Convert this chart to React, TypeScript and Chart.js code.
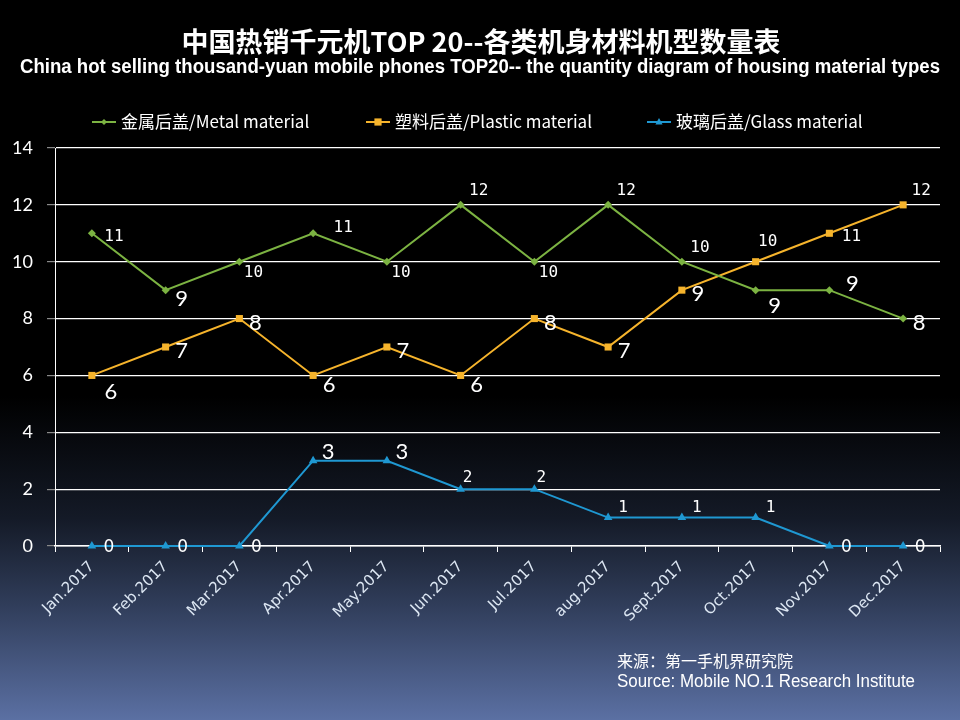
import { useEffect, useRef } from "react";
import { Chart, registerables } from "chart.js";

Chart.register(...registerables);

const months = ["Jan.2017", "Feb.2017", "Mar.2017", "Apr.2017", "May.2017", "Jun.2017", "Jul.2017", "aug.2017", "Sept.2017", "Oct.2017", "Nov.2017", "Dec.2017"];
const metalValues = [11, 9, 10, 11, 10, 12, 10, 12, 10, 9, 9, 8];
const plasticValues = [6, 7, 8, 6, 7, 6, 8, 7, 9, 10, 11, 12];
const glassValues = [0, 0, 0, 3, 3, 2, 2, 1, 1, 1, 0, 0];
const seriesNames = ["金属后盖/Metal material", "塑料后盖/Plastic material", "玻璃后盖/Glass material"];
const titleText = "中国热销千元机TOP 20--各类机身材料机型数量表";
const subtitleText = "China hot selling thousand-yuan mobile phones TOP20-- the quantity diagram of housing material types";
const sourceCn = "来源：第一手机界研究院";
const sourceEn = "Source: Mobile NO.1 Research Institute";
const yMin = 0;
const yMax = 14;
const yStep = 2;

// label placement codes (style only)
const metalLabelPlace = ["S_r", "L_br", "S_br", "S_fr", "S_br", "S_ar", "S_br", "S_ar", "S_ar", "L_b", "L_fr", "L_r"];
const plasticLabelPlace = ["L_b", "L_r", "L_r", "L_br", "L_r", "L_br", "L_r", "L_r", "L_r", "S_a", "S_r", "S_ar"];
const glassLabelPlace = ["Z", "Z", "Z", "L_ar", "L_ar", "S_g2", "S_g2", "S_g1", "S_g1", "S_g1", "Z", "Z"];

const LARGE = '22px "Lato"';
const SMALL = '16px "DejaVu Sans Mono"';
const MED = '17px "DejaVu Sans"';
const placeStyle: Record<string, [number, number, string]> = {
  L_r: [16, 4, LARGE],
  L_br: [16, 9, LARGE],
  L_b: [19, 16, LARGE],
  L_ar: [15, -9, LARGE],
  L_fr: [23, -6, LARGE],
  S_r: [22, 4, SMALL],
  S_fr: [30, -5, SMALL],
  S_br: [14, 11, SMALL],
  S_ar: [18, -14, SMALL],
  S_a: [12, -20, SMALL],
  S_g2: [7, -11, SMALL],
  S_g1: [15, -10, SMALL],
  Z: [17, 2, MED],
};

const colors = ["#7cb342", "#f6b42c", "#1f98d2"];
const pointStyles = ["rectRot", "rect", "triangle"];
const pointRadii = [4, 5, 5];
const legendX = [92, 366, 647];
const legendTextW = [191, 197, 188];

function drawMarker(ctx: CanvasRenderingContext2D, style: string, x: number, y: number, r: number) {
  ctx.beginPath();
  if (style === "rectRot") {
    ctx.moveTo(x, y - r);
    ctx.lineTo(x + r, y);
    ctx.lineTo(x, y + r);
    ctx.lineTo(x - r, y);
  } else if (style === "rect") {
    const s = r * 0.9;
    ctx.rect(x - s, y - s, 2 * s, 2 * s);
  } else {
    ctx.moveTo(x, y - r);
    ctx.lineTo(x + r * 0.9, y + r * 0.6);
    ctx.lineTo(x - r * 0.9, y + r * 0.6);
  }
  ctx.closePath();
  ctx.fill();
}

const decorPlugin = {
  id: "decor",
  afterDatasetsDraw(chart: any) {
    const ctx: CanvasRenderingContext2D = chart.ctx;
    const places = [metalLabelPlace, plasticLabelPlace, glassLabelPlace];
    ctx.save();
    ctx.fillStyle = "#ffffff";
    ctx.textAlign = "center";
    ctx.textBaseline = "middle";
    chart.data.datasets.forEach((ds: any, di: number) => {
      const meta = chart.getDatasetMeta(di);
      meta.data.forEach((pt: any, i: number) => {
        const st = placeStyle[places[di][i]];
        ctx.font = st[2];
        ctx.fillText(String(ds.data[i]), pt.x + st[0], pt.y + st[1]);
      });
    });
    ctx.restore();
  },
  afterDraw(chart: any) {
    const ctx: CanvasRenderingContext2D = chart.ctx;
    ctx.save();
    ctx.fillStyle = "#ffffff";
    ctx.textAlign = "center";
    ctx.textBaseline = "middle";
    ctx.font = 'bold 27px "Noto Sans CJK SC"';
    ctx.fillText(titleText, 481, 42, 604);
    ctx.font = 'bold 19.5px "Liberation Sans"';
    ctx.fillText(subtitleText, 480, 68, 920);

    // legend
    ctx.textAlign = "left";
    chart.data.datasets.forEach((ds: any, i: number) => {
      const x = legendX[i];
      const y = 122;
      ctx.strokeStyle = colors[i];
      ctx.lineWidth = 2;
      ctx.beginPath();
      ctx.moveTo(x, y);
      ctx.lineTo(x + 24, y);
      ctx.stroke();
      ctx.fillStyle = colors[i];
      drawMarker(ctx, pointStyles[i], x + 12, y, pointRadii[i] - 1);
      ctx.fillStyle = "#ffffff";
      ctx.font = '17px "Noto Sans CJK SC"';
      ctx.fillText(ds.label, x + 29, y, legendTextW[i]);
    });

    // source
    ctx.font = '16px "Noto Sans CJK SC"';
    ctx.fillText(sourceCn, 617, 661, 178);
    ctx.font = '17.5px "Liberation Sans"';
    ctx.fillText(sourceEn, 617, 682, 298);
    ctx.restore();
  },
};

export default function App() {
  const canvasRef = useRef<HTMLCanvasElement | null>(null);

  useEffect(() => {
    document.body.style.margin = "0";
    const canvas = canvasRef.current;
    if (!canvas) return;
    const values = [metalValues, plasticValues, glassValues];
    const chart = new Chart(canvas, {
      type: "line",
      data: {
        labels: months,
        datasets: values.map((v, i) => ({
          label: seriesNames[i],
          data: v,
          borderColor: colors[i],
          backgroundColor: colors[i],
          borderWidth: 2,
          pointStyle: pointStyles[i] as any,
          pointRadius: pointRadii[i],
          pointBorderWidth: 0,
          pointBackgroundColor: colors[i],
          tension: 0,
          fill: false,
          clip: 8,
        })),
      },
      options: {
        animation: false,
        responsive: false,
        devicePixelRatio: 1,
        layout: { padding: { top: 148, right: 20, left: 0, bottom: 0 } },
        plugins: {
          legend: { display: false },
          title: { display: false },
          tooltip: { enabled: false },
        },
        scales: {
          x: {
            type: "category",
            offset: true,
            afterFit: (scale: any) => {
              scale.height = 720 - 546;
            },
            grid: {
              display: true,
              drawOnChartArea: false,
              drawTicks: true,
              tickLength: 6,
              color: "#ffffff",
              offset: true,
            },
            border: { display: true, color: "#ffffff", width: 1.5 },
            ticks: {
              color: "#dde7f3",
              font: { family: "DejaVu Sans", size: 15 },
              maxRotation: 45,
              minRotation: 45,
              autoSkip: false,
              padding: 6,
            },
          },
          y: {
            min: yMin,
            max: yMax,
            afterFit: (scale: any) => {
              scale.width = 55;
            },
            grid: {
              color: "#ffffff",
              lineWidth: 1.2,
              drawTicks: true,
              tickLength: 8,
              tickColor: "#8a8a8a",
            },
            border: { display: true, color: "#ffffff", width: 1 },
            ticks: {
              stepSize: yStep,
              color: "#ffffff",
              font: { family: "Lato", size: 18 },
              padding: 14,
            },
          },
        },
      },
      plugins: [decorPlugin],
    });
    return () => chart.destroy();
  }, []);

  return (
    <div
      style={{
        position: "absolute",
        left: 0,
        top: 0,
        width: 960,
        height: 720,
        background:
          "linear-gradient(180deg, #000000 0%, #000000 55%, #141a27 72%, #303d5a 84%, #5b70a3 100%)",
      }}
    >
      <canvas ref={canvasRef} width={960} height={720} style={{ width: 960, height: 720, display: "block" }} />
    </div>
  );
}
